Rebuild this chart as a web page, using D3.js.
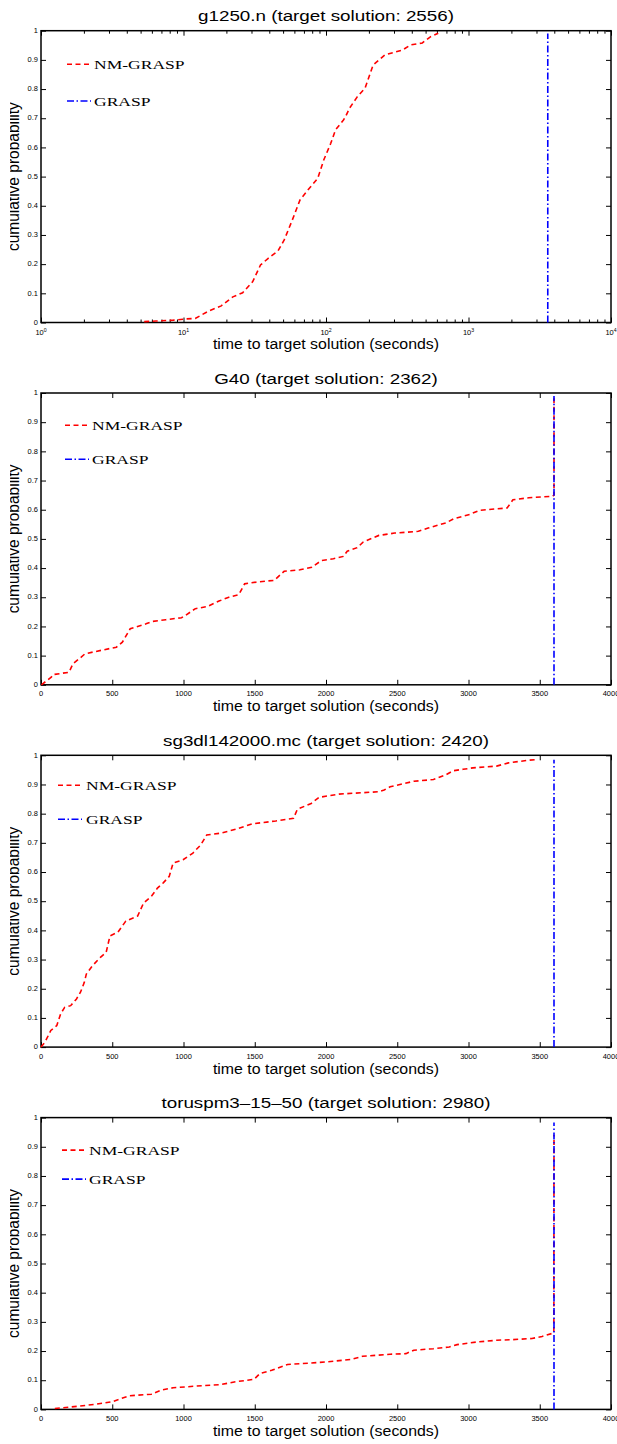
<!DOCTYPE html>
<html>
<head>
<meta charset="UTF-8">
<title>TTT plots</title>
<script src="https://d3js.org/d3.v7.min.js"></script>
<style>
body { margin: 0; background: #fff; }
</style>
</head>
<body>
<script>
var titles = ["g1250.n (target solution: 2556)",
              "G40 (target solution: 2362)",
              "sg3dl142000.mc (target solution: 2420)",
              "toruspm3\u201315\u201350 (target solution: 2980)"];
var seriesNames = ["NM-GRASP", "GRASP"];
var xLabel = "time to target solution (seconds)";
var yLabel = "cumulative probability";

var yTicks = [0, 0.1, 0.2, 0.3, 0.4, 0.5, 0.6, 0.7, 0.8, 0.9, 1];
var yTickLabels = ["0", "0.1", "0.2", "0.3", "0.4", "0.5", "0.6", "0.7", "0.8", "0.9", "1"];
var linTicks = [0, 500, 1000, 1500, 2000, 2500, 3000, 3500, 4000];
var logTicks = [1, 10, 100, 1000, 10000];

// g1250.n  (log time axis)
var nmTime1 = [5.3, 6.4, 8.5, 10.3, 12.1, 15.1, 18.4, 22.2, 26, 30.6, 34.7, 39.3, 46, 50.9, 58, 65.7, 74.6, 87.5, 96.4, 108, 116.6, 132.6, 137, 146, 166, 188, 214, 259, 345, 391, 474, 540, 613];
var nmProb1 = [0.003, 0.005, 0.008, 0.012, 0.014, 0.04, 0.057, 0.088, 0.102, 0.14, 0.197, 0.22, 0.245, 0.283, 0.351, 0.42, 0.454, 0.494, 0.557, 0.614, 0.66, 0.694, 0.705, 0.734, 0.774, 0.803, 0.882, 0.917, 0.934, 0.951, 0.958, 0.979, 0.991];
var graspTime1 = [3600, 3600];
var graspProb1 = [0, 0.99];

// G40
var nmTime2 = [3, 72, 86, 197, 224, 280, 308, 363, 529, 571, 626, 737, 778, 875, 986, 1014, 1083, 1166, 1249, 1318, 1388, 1429, 1512, 1637, 1706, 1817, 1900, 1969, 2052, 2122, 2149, 2219, 2260, 2371, 2482, 2648, 2717, 2842, 2897, 3008, 3077, 3271, 3312, 3423, 3589, 3600, 3600];
var nmProb2 = [0, 0.026, 0.035, 0.043, 0.072, 0.094, 0.106, 0.112, 0.129, 0.146, 0.192, 0.209, 0.217, 0.223, 0.23, 0.238, 0.261, 0.268, 0.287, 0.3, 0.309, 0.346, 0.352, 0.358, 0.389, 0.394, 0.403, 0.426, 0.432, 0.44, 0.458, 0.47, 0.489, 0.512, 0.52, 0.526, 0.537, 0.555, 0.569, 0.584, 0.598, 0.606, 0.634, 0.641, 0.646, 0.65, 0.987];
var graspTime2 = [3600, 3600];
var graspProb2 = [0, 0.99];

// sg3dl142000.mc
var nmTime3 = [0, 28, 69, 111, 138, 166, 208, 249, 277, 304, 318, 360, 415, 457, 484, 540, 595, 678, 720, 775, 817, 858, 900, 927, 997, 1066, 1121, 1163, 1260, 1370, 1481, 1647, 1772, 1799, 1896, 1952, 2090, 2367, 2408, 2450, 2547, 2616, 2754, 2837, 2892, 2962, 3031, 3197, 3280, 3419, 3488];
var nmProb3 = [0, 0.017, 0.057, 0.074, 0.114, 0.136, 0.142, 0.165, 0.188, 0.222, 0.25, 0.278, 0.307, 0.324, 0.381, 0.394, 0.432, 0.449, 0.494, 0.517, 0.545, 0.563, 0.585, 0.631, 0.642, 0.665, 0.693, 0.727, 0.733, 0.747, 0.765, 0.775, 0.784, 0.815, 0.835, 0.856, 0.867, 0.875, 0.881, 0.892, 0.903, 0.911, 0.917, 0.932, 0.947, 0.952, 0.957, 0.963, 0.974, 0.983, 0.986];
var graspTime3 = [3600, 3600];
var graspProb3 = [0, 0.985];

// toruspm3-15-50
var nmTime4 = [97, 263, 388, 498, 567, 623, 775, 844, 927, 1093, 1260, 1370, 1495, 1536, 1619, 1730, 1896, 2007, 2173, 2256, 2450, 2561, 2616, 2754, 2865, 2920, 3059, 3197, 3308, 3446, 3516, 3599, 3600];
var nmProb4 = [0.003, 0.011, 0.018, 0.026, 0.038, 0.047, 0.052, 0.066, 0.074, 0.08, 0.085, 0.095, 0.103, 0.123, 0.134, 0.154, 0.159, 0.163, 0.171, 0.182, 0.189, 0.191, 0.203, 0.208, 0.214, 0.222, 0.231, 0.237, 0.239, 0.243, 0.25, 0.262, 0.94];
var graspTime4 = [3600, 3600];
var graspProb4 = [0, 0.983];

var nmTimes = [nmTime1, nmTime2, nmTime3, nmTime4];
var nmProbs = [nmProb1, nmProb2, nmProb3, nmProb4];
var graspTimes = [graspTime1, graspTime2, graspTime3, graspTime4];
var graspProbs = [graspProb1, graspProb2, graspProb3, graspProb4];

var W = 617, H = 1444;
var boxLeft = 41, plotW = 570, plotH = 291.8, firstTop = 30.7, step = 362.3;
var sans = "'Liberation Sans', Arial, Helvetica, sans-serif";
var serif = "'Liberation Serif', 'Times New Roman', serif";
// legend position inside each box: line start, text start, row 1, row 2
var legendPos = [[26, 53, 33.6, 70.3], [24, 51, 32.3, 66.3], [17, 45, 30, 64], [21, 48, 32.5, 61.5]];

var svg = d3.select("body").append("svg")
    .attr("width", W)
    .attr("height", H);

// the y label of the original is cut by the figure edge
svg.append("defs").append("clipPath")
    .attr("id", "ylabclip")
    .append("rect")
    .attr("x", 10).attr("y", 0)
    .attr("width", W).attr("height", H);

// text whose glyphs are widened, like the stretched original figure
function wideText(g, x, y, str, size, sx, family, anchor) {
    return g.append("text")
        .attr("transform", "translate(" + x + "," + y + ") scale(" + sx + ",1)")
        .attr("font-family", family)
        .attr("font-size", size)
        .attr("text-anchor", anchor || "middle")
        .attr("fill", "#000")
        .text(str);
}

function drawPanel(i) {
    var boxTop = firstTop + i * step;
    var isLog = (i === 0);
    var x = isLog ? d3.scaleLog().domain([1, 10000]).range([0, plotW])
                  : d3.scaleLinear().domain([0, 4000]).range([0, plotW]);
    var y = d3.scaleLinear().domain([0, 1]).range([plotH, 0]);

    var g = svg.append("g").attr("transform", "translate(" + boxLeft + "," + boxTop + ")");

    // title
    wideText(svg, boxLeft + plotW / 2, boxTop - 9.5, titles[i], 15.3, 1.23, sans);

    // ticks on all four sides, pointing in
    var xVals = isLog ? x.ticks() : linTicks;
    var bottomAxis = d3.axisBottom(x).tickValues(xVals).tickSize(-5).tickSizeOuter(0).tickFormat("");
    var topAxis = d3.axisTop(x).tickValues(xVals).tickSize(-5).tickSizeOuter(0).tickFormat("");
    var leftAxis = d3.axisLeft(y).tickValues(yTicks).tickSize(-5).tickSizeOuter(0).tickFormat("");
    var rightAxis = d3.axisRight(y).tickValues(yTicks).tickSize(-5).tickSizeOuter(0).tickFormat("");

    var gb = g.append("g").attr("transform", "translate(0," + plotH + ")").call(bottomAxis);
    var gt = g.append("g").call(topAxis);
    g.append("g").call(leftAxis);
    g.append("g").attr("transform", "translate(" + plotW + ",0)").call(rightAxis);
    g.selectAll(".domain").remove();
    g.selectAll(".tick text").remove();
    g.selectAll(".tick line").attr("stroke", "#000").attr("stroke-width", 1);

    if (isLog) {
        var minor = function(d) { return Math.abs(Math.log10(d) - Math.round(Math.log10(d))) > 1e-6; };
        gb.selectAll(".tick").filter(minor).select("line").attr("y2", -3);
        gt.selectAll(".tick").filter(minor).select("line").attr("y2", 3);
    }

    // tick labels
    yTicks.forEach(function(v, k) {
        wideText(g, -3, y(v) + 2.2, yTickLabels[k], 6.5, 1.15, sans, "end");
    });
    if (isLog) {
        logTicks.forEach(function(v) {
            var t = wideText(g, x(v), plotH + 12, "", 6.5, 1.15, sans);
            t.append("tspan").text("10");
            t.append("tspan").attr("dy", -3).attr("font-size", 4.5).text(Math.round(Math.log10(v)));
        });
    } else {
        linTicks.forEach(function(v) {
            wideText(g, x(v), plotH + 11.5, String(v), 6.5, 1.15, sans);
        });
    }

    // box
    g.append("rect")
        .attr("x", 0).attr("y", 0)
        .attr("width", plotW).attr("height", plotH)
        .attr("fill", "none")
        .attr("stroke", "#000")
        .attr("stroke-width", 1.5);

    // axis labels
    wideText(svg, boxLeft + plotW / 2, boxTop + plotH + 26.5, xLabel, 15.3, 1.04, sans);
    svg.append("g").attr("clip-path", "url(#ylabclip)")
        .append("text")
        .attr("transform", "translate(19," + (boxTop + plotH / 2) + ") scale(1.1,1) rotate(-90)")
        .attr("font-family", sans)
        .attr("font-size", 15.5)
        .attr("text-anchor", "middle")
        .text(yLabel);

    // curves
    var line = d3.line().x(function(d) { return x(d[0]); }).y(function(d) { return y(d[1]); });
    var nm = d3.zip(nmTimes[i], nmProbs[i]);
    var gr = d3.zip(graspTimes[i], graspProbs[i]);

    g.append("path").datum(nm)
        .attr("d", line)
        .attr("fill", "none")
        .attr("stroke", "#ff0000")
        .attr("stroke-width", 1.6)
        .attr("stroke-dasharray", "5,3.5");
    g.append("path").datum(gr)
        .attr("d", line)
        .attr("fill", "none")
        .attr("stroke", "#0000ff")
        .attr("stroke-width", 1.6)
        .attr("stroke-dasharray", "7,2.5,1.5,2.5");

    // legend
    var lp = legendPos[i];
    g.append("line")
        .attr("x1", lp[0]).attr("x2", lp[0] + 24)
        .attr("y1", lp[2]).attr("y2", lp[2])
        .attr("stroke", "#ff0000").attr("stroke-width", 1.6)
        .attr("stroke-dasharray", "5,3.5");
    g.append("line")
        .attr("x1", lp[0]).attr("x2", lp[0] + 24)
        .attr("y1", lp[3]).attr("y2", lp[3])
        .attr("stroke", "#0000ff").attr("stroke-width", 1.6)
        .attr("stroke-dasharray", "7,2.5,1.5,2.5");
    wideText(g, lp[1], lp[2] + 4.5, seriesNames[0], 13.5, 1.3, serif, "start");
    wideText(g, lp[1], lp[3] + 4.5, seriesNames[1], 13.5, 1.3, serif, "start");
}

for (var p = 0; p < 4; p++) {
    drawPanel(p);
}
</script>
</body>
</html>
